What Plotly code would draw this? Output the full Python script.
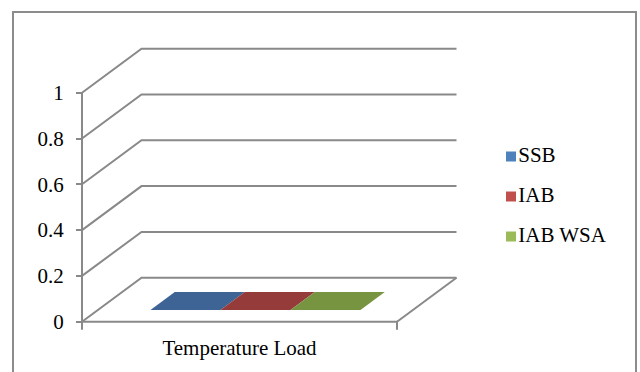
import plotly.graph_objects as go

# ---- data -------------------------------------------------------------
categories = ["Temperature Load"]
series_names = ["SSB", "IAB", "IAB WSA"]
ssb = [0]
iab = [0]
iab_wsa = [0]
y_ticks = [0, 0.2, 0.4, 0.6, 0.8, 1]
y_tick_text = ["0", "0.2", "0.4", "0.6", "0.8", "1"]

series_values = [ssb, iab, iab_wsa]
front_colors = ["#4F81BD", "#C0504D", "#9BBB59"]
top_colors = ["#3D6495", "#953C3B", "#779441"]

# ---- oblique 3-D projection helpers -----------------------------------
W, H = 640, 372
PX_PER_UNIT = 229.0          # vertical pixels per value unit
ZERO_PX = 321.7              # pixel row of value 0 on the front plane
DEPTH_DX = 59.5              # horizontal shift of the back plane (x units)
DEPTH_DZ = 44.0 / PX_PER_UNIT  # vertical shift of the back plane (value units)

AX_LEFT, AX_RIGHT = 82.0, 397.0   # front floor edge
BAR_W = 70.0
BAR_D0, BAR_D1 = 0.268, 0.677     # bar depth span (fraction of floor depth)


def proj(x, v, d):
    """Project point (x, value, depth fraction) onto the 2-D plot."""
    return x + DEPTH_DX * d, v + DEPTH_DZ * d


grid = "#898989"
serif = "Liberation Serif"
FONT_SIZE = 21
fig = go.Figure()

# side wall / back wall gridlines
gx, gy = [], []
for v in y_ticks:
    for (x, d) in [(AX_LEFT, 0), (AX_LEFT, 1), (AX_RIGHT, 1)]:
        px, pv = proj(x, v, d)
        gx.append(px)
        gy.append(pv)
    gx.append(None)
    gy.append(None)
fig.add_trace(go.Scatter(x=gx, y=gy, mode="lines", hoverinfo="skip",
                         line=dict(color=grid, width=2), showlegend=False))

# floor: front edge with category tick marks and right edge
tick_drop = 8.0 / PX_PER_UNIT
fx = [AX_LEFT, AX_LEFT, AX_RIGHT, AX_RIGHT, None]
fy = [-tick_drop, 0, 0, -tick_drop, None]
bx, bv = proj(AX_RIGHT, 0, 1)
fx += [AX_RIGHT, bx]
fy += [0, bv]
fig.add_trace(go.Scatter(x=fx, y=fy, mode="lines", hoverinfo="skip",
                         line=dict(color=grid, width=2), showlegend=False))

# vertical value axis line
fig.add_trace(go.Scatter(x=[AX_LEFT, AX_LEFT], y=[0, y_ticks[-1]], mode="lines",
                         hoverinfo="skip", line=dict(color=grid, width=2),
                         showlegend=False))

# bars
cat_center = (AX_LEFT + AX_RIGHT) / 2
for ci, cat in enumerate(categories):
    start = cat_center - BAR_W * len(series_names) / 2
    for si, name in enumerate(series_names):
        val = series_values[si][ci]
        x0 = start + BAR_W * si
        x1 = x0 + BAR_W
        # front face
        pts = [proj(x0, 0, BAR_D0), proj(x1, 0, BAR_D0),
               proj(x1, val, BAR_D0), proj(x0, val, BAR_D0)]
        if val != 0:
            fig.add_trace(go.Scatter(
                x=[p[0] for p in pts] + [pts[0][0]],
                y=[p[1] for p in pts] + [pts[0][1]],
                fill="toself", mode="none", fillcolor=front_colors[si],
                name=name, showlegend=False, hoverinfo="skip"))
        # top face
        pts = [proj(x0, val, BAR_D0), proj(x1, val, BAR_D0),
               proj(x1, val, BAR_D1), proj(x0, val, BAR_D1)]
        fig.add_trace(go.Scatter(
            x=[p[0] for p in pts] + [pts[0][0]],
            y=[p[1] for p in pts] + [pts[0][1]],
            fill="toself", mode="none", fillcolor=top_colors[si],
            name=name, showlegend=False, hoverinfo="text",
            text=f"{name}: {val}"))

# legend entries
LEG_X = 511.0
LEG_TOP_PX = 156.5
LEG_STEP_PX = 40.0
for si, name in enumerate(series_names):
    ly = (ZERO_PX - (LEG_TOP_PX + LEG_STEP_PX * si)) / PX_PER_UNIT
    fig.add_trace(go.Scatter(
        x=[LEG_X], y=[ly], mode="markers+text", text=[name],
        textposition="middle right",
        textfont=dict(family=serif, size=FONT_SIZE, color="#000000"),
        marker=dict(symbol="square", size=10, color=front_colors[si]),
        showlegend=False, hoverinfo="skip"))

# chart area border
fig.add_shape(type="rect", xref="paper", yref="paper",
              x0=13 / W, x1=636 / W, y0=-0.05, y1=1 - 12 / H,
              line=dict(color="#8C8C8C", width=2), fillcolor="rgba(0,0,0,0)")

y_lo = (ZERO_PX - H) / PX_PER_UNIT
y_hi = ZERO_PX / PX_PER_UNIT

fig.update_layout(
    width=W, height=H,
    margin=dict(l=0, r=0, t=0, b=0),
    paper_bgcolor="white", plot_bgcolor="white",
    showlegend=False,
    xaxis=dict(range=[0, W], showgrid=False, zeroline=False, showline=False,
               tickmode="array", tickvals=[cat_center], ticktext=categories,
               ticks="", anchor="free", position=(H - ZERO_PX) / H,
               ticklabelstandoff=11,
               tickfont=dict(family=serif, size=FONT_SIZE, color="#000000"),
               fixedrange=True),
    yaxis=dict(range=[y_lo, y_hi], showgrid=False, zeroline=False,
               showline=False, tickmode="array", tickvals=y_ticks,
               ticktext=y_tick_text, ticks="outside", ticklen=6, tickwidth=2,
               tickcolor=grid, anchor="free", position=AX_LEFT / W,
               ticklabelstandoff=8,
               tickfont=dict(family=serif, size=FONT_SIZE, color="#000000"),
               fixedrange=True),
)

fig.write_html("out.html")
